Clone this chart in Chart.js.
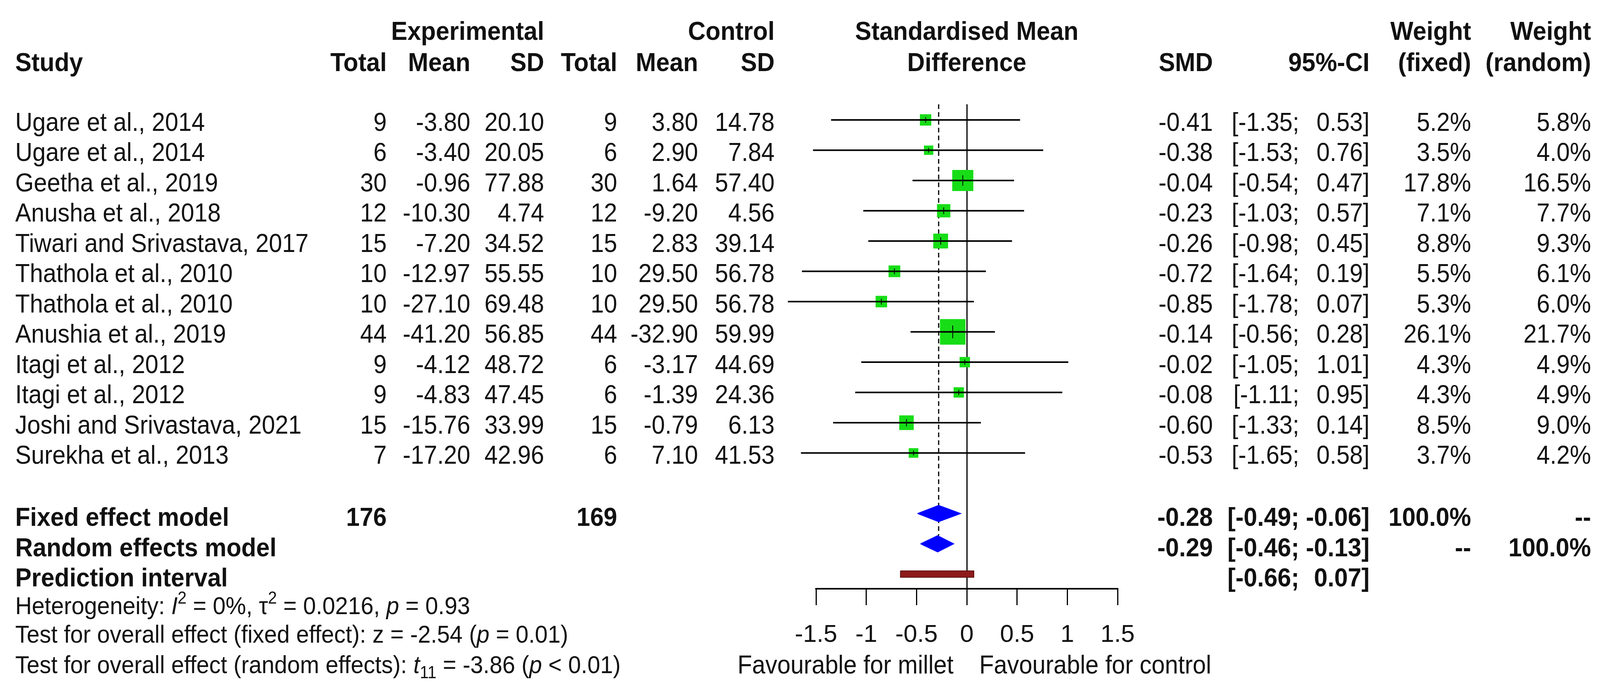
<!DOCTYPE html>
<html><head><meta charset="utf-8">
<script src="https://cdn.jsdelivr.net/npm/chart.js@4.4.1/dist/chart.umd.min.js"></script>
<style>html,body{margin:0;padding:0;background:#fff;overflow:hidden}canvas{display:block}</style>
</head><body>
<canvas id="c" width="4126" height="1779" style="width:4126px;height:1779px"></canvas>
<script>
// ---------------- data ----------------
const STUDIES = ['Ugare et al., 2014','Ugare et al., 2014','Geetha et al., 2019','Anusha et al., 2018',
  'Tiwari and Srivastava, 2017','Thathola et al., 2010','Thathola et al., 2010','Anushia et al., 2019',
  'Itagi et al., 2012','Itagi et al., 2012','Joshi and Srivastava, 2021','Surekha et al., 2013'];
const EXP_TOTAL = [9,6,30,12,15,10,10,44,9,9,15,7];
const EXP_MEAN  = [-3.80,-3.40,-0.96,-10.30,-7.20,-12.97,-27.10,-41.20,-4.12,-4.83,-15.76,-17.20];
const EXP_SD    = [20.10,20.05,77.88,4.74,34.52,55.55,69.48,56.85,48.72,47.45,33.99,42.96];
const CTL_TOTAL = [9,6,30,12,15,10,10,44,6,6,15,6];
const CTL_MEAN  = [3.80,2.90,1.64,-9.20,2.83,29.50,29.50,-32.90,-3.17,-1.39,-0.79,7.10];
const CTL_SD    = [14.78,7.84,57.40,4.56,39.14,56.78,56.78,59.99,44.69,24.36,6.13,41.53];
const SMD       = [-0.41,-0.38,-0.04,-0.23,-0.26,-0.72,-0.85,-0.14,-0.02,-0.08,-0.60,-0.53];
const CI_LO     = [-1.35,-1.53,-0.54,-1.03,-0.98,-1.64,-1.78,-0.56,-1.05,-1.11,-1.33,-1.65];
const CI_HI     = [0.53,0.76,0.47,0.57,0.45,0.19,0.07,0.28,1.01,0.95,0.14,0.58];
const W_FIXED   = [5.2,3.5,17.8,7.1,8.8,5.5,5.3,26.1,4.3,4.3,8.5,3.7];
const W_RANDOM  = [5.8,4.0,16.5,7.7,9.3,6.1,6.0,21.7,4.9,4.9,9.0,4.2];
const SUMMARY_LABELS = ['Fixed effect model','Random effects model','Prediction interval'];
const SUMMARY_TOTALS = [176,169];
const SUMMARY_EST = [-0.28,-0.29];
const SUMMARY_LO  = [-0.49,-0.46];
const SUMMARY_HI  = [-0.06,-0.13];
const PRED_INT    = [-0.66,0.07];
const X_TICKS = [-1.5,-1,-0.5,0,0.5,1,1.5];

// ---------------- style / layout ----------------
const FONT = "'Liberation Sans', Arial, sans-serif";
const FS = 66, SX = 0.925, SXB = 0.945, FSB = 63, SXS = 0.935;
const INK = '#111';
const GREEN = '#17dd17', BLUE = '#0000ff', PRED_FILL = '#8e1b1b', PRED_EDGE = '#5e1010';
const Y_MIN = 0.484, Y_MAX = 16.484;
const DH = 0.27, PH = 0.105;
const SQ = 12.8; // px per sqrt(weight)
const AXIS_H = 272;
const COL = {name:39, eT:990, eM:1204, eS:1393, cT:1580, cM:1787, cS:1983,
             smd:3105, ciL:3326, ciH:3506, wF:3766, wR:4073};

const side = w => SQ*Math.sqrt(w);
const f2 = v => v.toFixed(2);

// ---------------- datasets ----------------
const datasets = [];
STUDIES.forEach((s,i)=>{
  datasets.push({type:'line', data:[{x:CI_LO[i],y:i+1},{x:CI_HI[i],y:i+1}],
    borderColor:'#000', borderWidth:4, pointRadius:0, clip:false, order:1, tension:0});
});
datasets.push({type:'scatter', data:SMD.map((v,i)=>({x:v,y:i+1})), pointStyle:'rect',
  pointRadius:c=>side(W_FIXED[c.dataIndex])/Math.SQRT2, backgroundColor:GREEN, borderWidth:0,
  clip:false, order:3});
datasets.push({type:'scatter', data:SMD.map((v,i)=>({x:v,y:i+1})), pointStyle:'line', rotation:90,
  pointRadius:c=>side(W_FIXED[c.dataIndex])*0.25, borderColor:'#000', borderWidth:2,
  clip:false, order:0});
SUMMARY_EST.forEach((e,k)=>{
  const r = 14+k;
  datasets.push({type:'line', data:[{x:SUMMARY_LO[k],y:r},{x:e,y:r-DH},{x:SUMMARY_HI[k],y:r},{x:e,y:r+DH},{x:SUMMARY_LO[k],y:r}],
    fill:'shape', backgroundColor:BLUE, borderColor:BLUE, borderWidth:2, pointRadius:0, tension:0, clip:false, order:2});
});
datasets.push({type:'line', data:[{x:PRED_INT[0],y:16-PH},{x:PRED_INT[1],y:16-PH},{x:PRED_INT[1],y:16+PH},{x:PRED_INT[0],y:16+PH},{x:PRED_INT[0],y:16-PH}],
  fill:'shape', backgroundColor:PRED_FILL, borderColor:PRED_EDGE, borderWidth:2, pointRadius:0, tension:0, clip:false, order:2});
datasets.push({type:'line', data:[{x:SUMMARY_EST[0],y:Y_MIN},{x:SUMMARY_EST[0],y:15-DH}],
  borderColor:'#000', borderWidth:3, borderDash:[12,8], pointRadius:0, clip:false, order:5});

// ---------------- text helpers ----------------
function txt(ctx, s, x, yc, align, bold) {
  const size = FS;
  ctx.save();
  ctx.font = (bold?'bold ':'') + size + 'px ' + FONT;
  ctx.fillStyle = INK;
  ctx.textBaseline = 'alphabetic';
  ctx.textAlign = align || 'left';
  ctx.translate(x, yc + 0.358*size);
  ctx.scale(bold?SXB:SX,1);
  ctx.fillText(s,0,0);
  ctx.restore();
}
function rich(ctx, segs, x, yc, size) {
  const base = yc + 0.358*size;
  let cx = x;
  segs.forEach(sg=>{
    const sz = sg.small ? Math.round(size*0.7) : size;
    const dy = sg.sup ? -0.42*size : (sg.sub ? 0.2*size : 0);
    ctx.save();
    ctx.font = (sg.it?'italic ':'') + sz + 'px ' + FONT;
    ctx.fillStyle = INK;
    ctx.textBaseline = 'alphabetic';
    ctx.textAlign = 'left';
    ctx.translate(cx, base+dy);
    ctx.scale(SXS,1);
    ctx.fillText(sg.t,0,0);
    cx += ctx.measureText(sg.t).width*SXS;
    ctx.restore();
  });
}

const tablePlugin = {
  id:'table',
  afterDraw(chart){
    const ctx = chart.ctx, ys = chart.scales.y, xs = chart.scales.x, ca = chart.chartArea;
    const Y = r => ys.getPixelForValue(r);
    const mid = (ca.left+ca.right)/2;
    const h1 = Y(-1.955), h2 = Y(-0.92);
    txt(ctx,'Experimental',COL.eS,h1,'right',true);
    txt(ctx,'Control',COL.cS,h1,'right',true);
    txt(ctx,'Standardised Mean',mid,h1,'center',true);
    txt(ctx,'Weight',COL.wF,h1,'right',true);
    txt(ctx,'Weight',COL.wR,h1,'right',true);
    txt(ctx,'Study',COL.name,h2,'left',true);
    txt(ctx,'Total',COL.eT,h2,'right',true);
    txt(ctx,'Mean',COL.eM,h2,'right',true);
    txt(ctx,'SD',COL.eS,h2,'right',true);
    txt(ctx,'Total',COL.cT,h2,'right',true);
    txt(ctx,'Mean',COL.cM,h2,'right',true);
    txt(ctx,'SD',COL.cS,h2,'right',true);
    txt(ctx,'Difference',mid,h2,'center',true);
    txt(ctx,'SMD',COL.smd,h2,'right',true);
    txt(ctx,'95%-CI',COL.ciH,h2,'right',true);
    txt(ctx,'(fixed)',COL.wF,h2,'right',true);
    txt(ctx,'(random)',COL.wR,h2,'right',true);
    STUDIES.forEach((s,i)=>{
      const y = Y(i+1)+4;
      txt(ctx,s,COL.name,y,'left');
      txt(ctx,String(EXP_TOTAL[i]),COL.eT,y,'right');
      txt(ctx,f2(EXP_MEAN[i]),COL.eM,y,'right');
      txt(ctx,f2(EXP_SD[i]),COL.eS,y,'right');
      txt(ctx,String(CTL_TOTAL[i]),COL.cT,y,'right');
      txt(ctx,f2(CTL_MEAN[i]),COL.cM,y,'right');
      txt(ctx,f2(CTL_SD[i]),COL.cS,y,'right');
      txt(ctx,f2(SMD[i]),COL.smd,y,'right');
      txt(ctx,'['+f2(CI_LO[i])+';',COL.ciL,y,'right');
      txt(ctx,f2(CI_HI[i])+']',COL.ciH,y,'right');
      txt(ctx,W_FIXED[i].toFixed(1)+'%',COL.wF,y,'right');
      txt(ctx,W_RANDOM[i].toFixed(1)+'%',COL.wR,y,'right');
    });
    const s0 = Y(14)+8, s1 = Y(15)+8, s2 = Y(16)+8;
    txt(ctx,SUMMARY_LABELS[0],COL.name,s0,'left',true);
    txt(ctx,String(SUMMARY_TOTALS[0]),COL.eT,s0,'right',true);
    txt(ctx,String(SUMMARY_TOTALS[1]),COL.cT,s0,'right',true);
    txt(ctx,f2(SUMMARY_EST[0]),COL.smd,s0,'right',true);
    txt(ctx,'['+f2(SUMMARY_LO[0])+';',COL.ciL,s0,'right',true);
    txt(ctx,f2(SUMMARY_HI[0])+']',COL.ciH,s0,'right',true);
    txt(ctx,'100.0%',COL.wF,s0,'right',true);
    txt(ctx,'--',COL.wR,s0,'right',true);
    txt(ctx,SUMMARY_LABELS[1],COL.name,s1,'left',true);
    txt(ctx,f2(SUMMARY_EST[1]),COL.smd,s1,'right',true);
    txt(ctx,'['+f2(SUMMARY_LO[1])+';',COL.ciL,s1,'right',true);
    txt(ctx,f2(SUMMARY_HI[1])+']',COL.ciH,s1,'right',true);
    txt(ctx,'--',COL.wF,s1,'right',true);
    txt(ctx,'100.0%',COL.wR,s1,'right',true);
    txt(ctx,SUMMARY_LABELS[2],COL.name,s2,'left',true);
    txt(ctx,'['+f2(PRED_INT[0])+';',COL.ciL,s2,'right',true);
    txt(ctx,f2(PRED_INT[1])+']',COL.ciH,s2,'right',true);
    rich(ctx,[{t:'Heterogeneity: '},{t:'I',it:true},{t:'2',small:true,sup:true},{t:' = 0%, '},
      {t:'\u03C4'},{t:'2',small:true,sup:true},{t:' = 0.0216, '},{t:'p',it:true},{t:' = 0.93'}],
      COL.name, Y(17.03), FSB);
    rich(ctx,[{t:'Test for overall effect (fixed effect): z = -2.54 ('},{t:'p',it:true},{t:' = 0.01)'}],
      COL.name, Y(17.98), FSB);
    rich(ctx,[{t:'Test for overall effect (random effects): '},{t:'t',it:true},{t:'11',small:true,sub:true},
      {t:' = -3.86 ('},{t:'p',it:true},{t:' < 0.01)'}], COL.name, Y(18.98), FSB);
    const x0 = xs.getPixelForValue(0);
    txt(ctx,'Favourable for millet',x0-34,Y(18.98),'right');
    txt(ctx,'Favourable for control',x0+32,Y(18.98),'left');
  }
};

new Chart(document.getElementById('c'), {
  type:'scatter',
  data:{datasets},
  options:{
    responsive:false, devicePixelRatio:1, animation:false, events:[],
    layout:{padding:{left:2089, right:1265, top:267, bottom:0}},
    plugins:{legend:{display:false}, tooltip:{enabled:false}},
    scales:{
      x:{type:'linear', min:-1.5, max:1.5, position:'bottom',
        afterFit:s=>{s.height=AXIS_H;},
        afterBuildTicks:s=>{s.ticks = X_TICKS.map(v=>({value:v}));},
        border:{display:true, color:'#000', width:4},
        grid:{display:true, drawOnChartArea:true, drawTicks:true, tickLength:42, lineWidth:3, tickWidth:3,
          color:c=>(c.tick && c.tick.value===0)?'#000':'rgba(0,0,0,0)', tickColor:'#000'},
        ticks:{padding:39, color:INK, autoSkip:false, maxRotation:0, font:{family:FONT, size:63},
          callback:v=>String(v)}
      },
      y:{type:'linear', reverse:true, min:Y_MIN, max:Y_MAX, display:false}
    }
  },
  plugins:[tablePlugin]
});
</script>
</body></html>
